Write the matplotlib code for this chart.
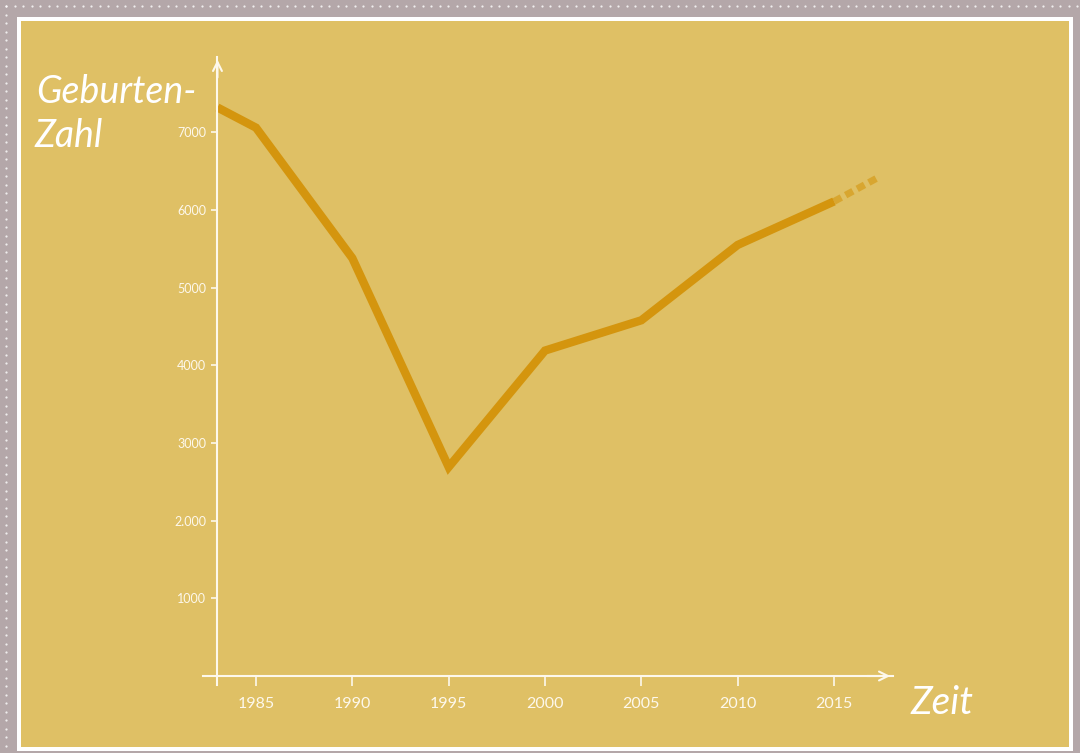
import numpy as np
import matplotlib.pyplot as plt
from matplotlib.patches import Rectangle

# ---------------------------------------------------------------------------
# Data
# ---------------------------------------------------------------------------
years = [1983, 1985, 1990, 1995, 2000, 2005, 2010, 2015]
births = [7320, 7060, 5380, 2690, 4190, 4580, 5550, 6110]
# faint dotted continuation after 2015
years_ext = [2015, 2017.3]
births_ext = [6110, 6420]

ytick_vals = [1000, 2000, 3000, 4000, 5000, 6000, 7000]
ytick_labels = ["1000", "2.000", "3000", "4000", "5000", "6000", "7000"]
xtick_vals = [1985, 1990, 1995, 2000, 2005, 2010, 2015]
xtick_labels = [str(v) for v in xtick_vals]

# ---------------------------------------------------------------------------
# Colours
# ---------------------------------------------------------------------------
frame_col = "#b4a7a9"
panel_col = "#dfc065"
line_col = "#d4950e"
white = "#fdf8ec"

W, H = 1080, 753
fig = plt.figure(figsize=(W / 100, H / 100), dpi=100, facecolor=frame_col)

# white border + yellow panel (behind the axes)
fig.add_artist(Rectangle((17 / W, 1 - 751 / H), (1073 - 17) / W, (751 - 17) / H,
                         transform=fig.transFigure, facecolor="white", edgecolor="none",
                         zorder=-10))
fig.add_artist(Rectangle((21 / W, 1 - 747 / H), (1069 - 21) / W, (747 - 21) / H,
                         transform=fig.transFigure, facecolor=panel_col, edgecolor="none",
                         zorder=-9))

# dotted frame decoration
dx = np.arange(6, W, 8.5)
dy = np.arange(6, H, 8.5)
fig.add_artist(plt.Line2D(dx / W, np.full_like(dx, 1 - 6 / H), transform=fig.transFigure,
                          ls="none", marker="o", ms=1.6, mfc="white", mec="none", alpha=0.8,
                          zorder=-8))
fig.add_artist(plt.Line2D(np.full_like(dy, 6 / W), 1 - dy / H, transform=fig.transFigure,
                          ls="none", marker="o", ms=1.6, mfc="white", mec="none", alpha=0.8,
                          zorder=-8))

# ---------------------------------------------------------------------------
# Axes: pixel box x 203..893, y 57..685
# ---------------------------------------------------------------------------
ax = fig.add_axes([203 / W, 1 - 685 / H, (893 - 203) / W, (685 - 57) / H])
ax.set_facecolor("none")
px_per_year = (834 - 256) / 30
px_per_unit = (598 - 132) / 6000
ax.set_xlim(1985 + (203 - 256) / px_per_year, 1985 + (893 - 256) / px_per_year)
ax.set_ylim((676 - 685) / px_per_unit, (676 - 57) / px_per_unit)

ax.plot(years, births, color=line_col, lw=6, solid_joinstyle="miter", solid_capstyle="butt")
ax.plot(years_ext, births_ext, color=line_col, lw=5, ls=(0, (1.2, 0.7)), alpha=0.6)

for s in ("top", "right"):
    ax.spines[s].set_visible(False)
ax.spines["left"].set_position(("data", 1983))
ax.spines["bottom"].set_position(("data", 0))
for s in ("left", "bottom"):
    ax.spines[s].set_color(white)
    ax.spines[s].set_linewidth(1.5)

ax.set_yticks(ytick_vals, ytick_labels)
ax.set_xticks(xtick_vals, xtick_labels)
ax.tick_params(axis="y", colors=white, length=4, width=1.2, pad=4, labelsize=9)
ax.tick_params(axis="x", colors=white, length=7, width=1.2, pad=8, labelsize=11.5)
for lab in ax.get_xticklabels() + ax.get_yticklabels():
    lab.set_fontfamily("Lato")

# arrow heads
x0, x1 = ax.get_xlim()
y0, y1 = ax.get_ylim()
ax.annotate("", xy=(1983, y1), xytext=(1983, y1 - 300),
            arrowprops=dict(arrowstyle="->", color=white, lw=1.5, mutation_scale=16),
            annotation_clip=False)
ax.annotate("", xy=(x1, 0), xytext=(x1 - 1.5, 0),
            arrowprops=dict(arrowstyle="->", color=white, lw=1.5, mutation_scale=16),
            annotation_clip=False)

# handwritten-style labels
fig.text(36 / W, 1 - 92 / H, "Geburten-", color="white", fontsize=27,
         family="Lato", style="italic", va="center", ha="left")
fig.text(34 / W, 1 - 136 / H, "Zahl", color="white", fontsize=27,
         family="Lato", style="italic", va="center", ha="left")
fig.text(910 / W, 1 - 703 / H, "Zeit", color="white", fontsize=28,
         family="Lato", style="italic", va="center", ha="left")

fig.savefig("out.png", dpi=100, facecolor=frame_col)
